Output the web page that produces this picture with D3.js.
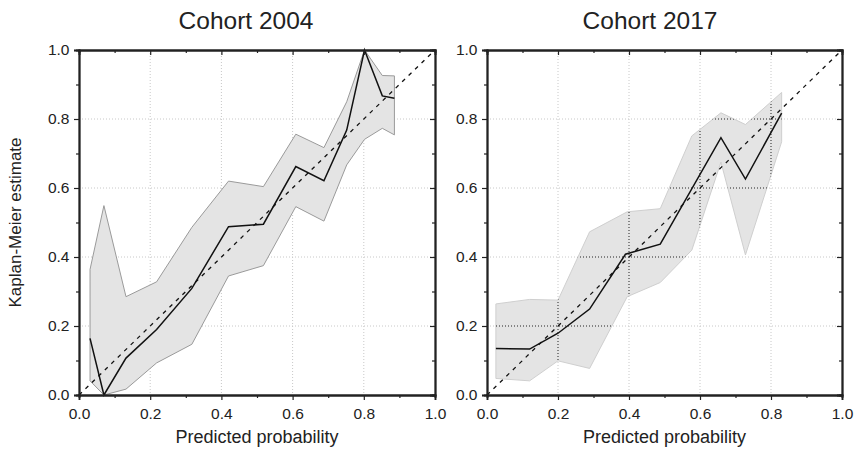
<!DOCTYPE html>
<html lang="en">
<head>
    <meta charset="UTF-8">
    <title>Calibration plots</title>
    <script src="https://d3js.org/d3.v7.min.js"></script>
    <style>
        body { margin: 0; background: #fff; }
        text { font-family: "Liberation Sans", Arial, sans-serif; fill: #222; }
    </style>
</head>
<body>
    <script>
        const width = 857;
        const height = 450;

        // cohort 2004
        const c04X = [0.031, 0.070, 0.132, 0.218, 0.317, 0.420, 0.518, 0.609, 0.688, 0.752, 0.802, 0.852, 0.886];
        const c04Lower = [0.041, 0.0, 0.017, 0.093, 0.147, 0.345, 0.375, 0.546, 0.504, 0.667, 0.741, 0.773, 0.754];
        const c04Upper = [0.364, 0.549, 0.285, 0.328, 0.486, 0.620, 0.604, 0.756, 0.717, 0.850, 1.0, 0.926, 0.925];
        const c04Km = [0.164, 0.0, 0.107, 0.190, 0.309, 0.488, 0.495, 0.662, 0.621, 0.768, 1.0, 0.867, 0.860];

        // cohort 2017
        const c17X = [0.025, 0.120, 0.200, 0.289, 0.395, 0.488, 0.577, 0.659, 0.728, 0.830];
        const c17Lower = [0.048, 0.041, 0.099, 0.077, 0.285, 0.326, 0.420, 0.675, 0.406, 0.734];
        const c17Upper = [0.264, 0.277, 0.275, 0.473, 0.531, 0.540, 0.751, 0.818, 0.784, 0.877];
        const c17KmX = [0.025, 0.120, 0.200, 0.289, 0.390, 0.488, 0.659, 0.728, 0.830];
        const c17Km = [0.135, 0.133, 0.179, 0.249, 0.408, 0.437, 0.746, 0.626, 0.817];

        const majorTicks = [0, 0.2, 0.4, 0.6, 0.8, 1.0];
        const minorTicks = [0.1, 0.3, 0.5, 0.7, 0.9];
        const gridTicks = [0.2, 0.4, 0.6, 0.8];

        const panels = [
            { title: "Cohort 2004", x0: 79, x1: 435, titleX: 246, bandX: c04X, lower: c04Lower, upper: c04Upper,
              kmX: c04X, km: c04Km, bandStroke: "#9a9a9a", darkGrid: false },
            { title: "Cohort 2017", x0: 487, x1: 842, titleX: 650, bandX: c17X, lower: c17Lower, upper: c17Upper,
              kmX: c17KmX, km: c17Km, bandStroke: "#cfcfcf", darkGrid: true }
        ];
        const plotTop = 50, plotBottom = 395;

        const svg = d3.select("body")
            .append("svg")
            .attr("width", width)
            .attr("height", height);

        svg.append("text")
            .attr("transform", `translate(21,${(plotTop + plotBottom) / 2}) rotate(-90)`)
            .attr("text-anchor", "middle")
            .attr("font-size", 17)
            .text("Kaplan-Meier estimate");

        panels.forEach((p, i) => {
            const x = d3.scaleLinear().domain([0, 1]).range([p.x0, p.x1]);
            const y = d3.scaleLinear().domain([0, 1]).range([plotBottom, plotTop]);
            const g = svg.append("g");

            const band = p.bandX.map((v, j) => ({ x: v, lo: p.lower[j], hi: p.upper[j] }));
            const area = d3.area()
                .x(d => x(d.x))
                .y0(d => y(d.lo))
                .y1(d => y(d.hi));

            // light dotted grid
            const drawGrid = (sel, color) => {
                sel.selectAll(".vg").data(gridTicks).enter().append("line")
                    .attr("x1", d => x(d)).attr("x2", d => x(d))
                    .attr("y1", plotTop).attr("y2", plotBottom)
                    .attr("stroke", color).attr("stroke-dasharray", "1,2");
                sel.selectAll(".hg").data(gridTicks).enter().append("line")
                    .attr("y1", d => y(d)).attr("y2", d => y(d))
                    .attr("x1", p.x0).attr("x2", p.x1)
                    .attr("stroke", color).attr("stroke-dasharray", "1,2");
            };
            drawGrid(g.append("g"), "#c8c8c8");

            g.append("path")
                .datum(band)
                .attr("d", area)
                .attr("fill", "#e4e4e4")
                .attr("stroke", p.bandStroke)
                .attr("stroke-width", 1);

            if (p.darkGrid) {
                svg.append("clipPath").attr("id", "bandclip" + i)
                    .append("path").datum(band).attr("d", area);
                drawGrid(g.append("g").attr("clip-path", `url(#bandclip${i})`), "#222");
            }

            // reference diagonal
            g.append("line")
                .attr("x1", x(0)).attr("y1", y(0))
                .attr("x2", x(1)).attr("y2", y(1))
                .attr("stroke", "#111")
                .attr("stroke-width", 1.3)
                .attr("stroke-dasharray", "4,5");

            const km = p.kmX.map((v, j) => ({ x: v, y: p.km[j] }));
            g.append("path")
                .datum(km)
                .attr("d", d3.line().x(d => x(d.x)).y(d => y(d.y)))
                .attr("fill", "none")
                .attr("stroke", "#111")
                .attr("stroke-width", 1.5);

            // axes: outer ticks on left/bottom, inner ticks on top/right
            const xAx = g.append("g").attr("transform", `translate(0,${plotBottom})`)
                .call(d3.axisBottom(x).tickValues(majorTicks).tickSize(5).tickFormat(d3.format(".1f")));
            const yAx = g.append("g").attr("transform", `translate(${p.x0},0)`)
                .call(d3.axisLeft(y).tickValues(majorTicks).tickSize(5).tickFormat(d3.format(".1f")));
            g.append("g").attr("transform", `translate(0,${plotBottom})`)
                .call(d3.axisBottom(x).tickValues(minorTicks).tickSize(3).tickFormat(""));
            g.append("g").attr("transform", `translate(${p.x0},0)`)
                .call(d3.axisLeft(y).tickValues(minorTicks).tickSize(3).tickFormat(""));
            g.append("g").attr("transform", `translate(0,${plotTop})`)
                .call(d3.axisTop(x).tickValues(majorTicks).tickSize(-5).tickFormat(""));
            g.append("g").attr("transform", `translate(0,${plotTop})`)
                .call(d3.axisTop(x).tickValues(minorTicks).tickSize(-3).tickFormat(""));
            g.append("g").attr("transform", `translate(${p.x1},0)`)
                .call(d3.axisRight(y).tickValues(majorTicks).tickSize(-5).tickFormat(""));
            g.append("g").attr("transform", `translate(${p.x1},0)`)
                .call(d3.axisRight(y).tickValues(minorTicks).tickSize(-3).tickFormat(""));

            g.selectAll(".domain").attr("stroke", "#222").attr("stroke-width", 1.8);
            g.selectAll(".tick line").attr("stroke", "#222").attr("stroke-width", 1.2);
            xAx.selectAll("text").attr("font-size", 15.5).attr("dy", "1.05em").attr("fill", "#222");
            yAx.selectAll("text").attr("font-size", 15.5).attr("dx", "-0.1em").attr("fill", "#222");

            g.append("text")
                .attr("x", p.titleX).attr("y", 29)
                .attr("text-anchor", "middle")
                .attr("font-size", 24.5)
                .text(p.title);

            g.append("text")
                .attr("x", (p.x0 + p.x1) / 2).attr("y", 443)
                .attr("text-anchor", "middle")
                .attr("font-size", 18)
                .text("Predicted probability");
        });
    </script>
</body>
</html>
